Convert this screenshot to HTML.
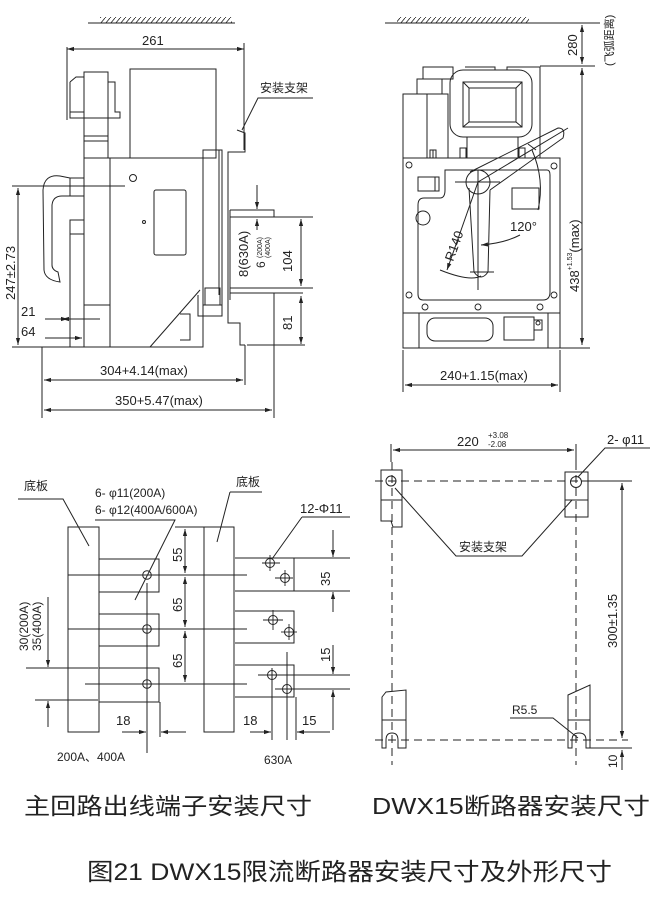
<!DOCTYPE html>
<html><head><meta charset="utf-8"><style>
html,body{margin:0;padding:0;background:#fff}
svg{display:block}
text{font-family:"Liberation Sans","Noto Sans CJK SC",sans-serif;fill:#222}
</style></head><body>
<svg width="658" height="898" viewBox="0 0 658 898" xmlns="http://www.w3.org/2000/svg">
<defs>
<marker id="a" viewBox="0 0 10 10" refX="10" refY="5" markerWidth="7" markerHeight="7" orient="auto-start-reverse"><path d="M0,2L10,5L0,8z" fill="#222"/></marker>
<pattern id="h" width="5" height="6" patternUnits="userSpaceOnUse"><line x1="0" y1="6" x2="5" y2="0" stroke="#222" stroke-width="0.8"/></pattern>
</defs>
<g fill="none" stroke="#222" stroke-width="1">
<!-- ===== TOP LEFT ===== -->
<rect x="100" y="17" width="132" height="6" fill="url(#h)" stroke="none"/>
<line x1="88" y1="23" x2="235" y2="23"/>
<line x1="67" y1="47" x2="67" y2="120"/><line x1="244" y1="43" x2="244" y2="150"/>
<line x1="67" y1="49" x2="244" y2="49" marker-start="url(#a)" marker-end="url(#a)"/>
<path d="M70,82 L76,77 L84,77 M70,82 L70,118 L120,118 L120,112 L115,112 L115,82 L108,82 M70,112 L84,112"/>
<rect x="84" y="72" width="24" height="86"/>
<line x1="84" y1="136" x2="108" y2="136"/><line x1="84" y1="141" x2="108" y2="141"/>
<rect x="130" y="69" width="86" height="89"/>
<rect x="84" y="158" width="119" height="189"/>
<line x1="110" y1="158" x2="110" y2="347"/><line x1="84" y1="305" x2="110" y2="305"/>
<path d="M70,178 L60,176 Q44,174 43,190 L44,270 Q45,280 60,282 L58,272 Q52,270 52,265 L52,205 Q53,196 62,196 L70,196"/>
<rect x="70" y="178" width="14" height="18"/>
<rect x="70" y="220" width="14" height="14"/>
<line x1="70" y1="234" x2="70" y2="347"/>
<circle cx="133" cy="178" r="3.5"/>
<rect x="154" y="190" width="32" height="65" rx="2"/>
<circle cx="144" cy="222" r="1.5"/>
<line x1="12" y1="186" x2="125" y2="186"/>
<rect x="203" y="150" width="19" height="155"/>
<line x1="219" y1="150" x2="219" y2="295"/>
<rect x="205" y="288" width="15" height="17"/>
<path d="M237,130 L245,133 L245,152 L228,152 L228,323 L240,323 L240,345 L245,345"/>
<path d="M198,295 L198,316 L222,316 L222,300"/>
<line x1="150" y1="347" x2="200" y2="290"/>
<path d="M180,314 L190,314 L190,340 L180,340"/>
<path d="M230,210 L274,210 L274,217 M230,217 L313,217 M230,288 L313,288 M230,293 L303,293 M247,345 L305,345"/>
<line x1="230" y1="210" x2="230" y2="300"/>
<line x1="274" y1="293" x2="274" y2="418"/>
<line x1="301" y1="219" x2="301" y2="286" marker-start="url(#a)" marker-end="url(#a)"/>
<line x1="301" y1="296" x2="301" y2="344" marker-start="url(#a)" marker-end="url(#a)"/>
<line x1="257" y1="185" x2="257" y2="209" marker-end="url(#a)"/>
<line x1="257" y1="230" x2="257" y2="219" marker-end="url(#a)"/>
<line x1="12" y1="347" x2="190" y2="347"/>
<line x1="18" y1="188" x2="18" y2="345" marker-start="url(#a)" marker-end="url(#a)"/>
<line x1="62" y1="319" x2="100" y2="319" marker-start="url(#a)"/>
<line x1="45" y1="319" x2="68" y2="319" marker-end="url(#a)"/>
<line x1="45" y1="338" x2="82" y2="338" marker-end="url(#a)"/>
<line x1="42" y1="347" x2="42" y2="418"/>
<line x1="245" y1="345" x2="245" y2="385"/>
<line x1="44" y1="380" x2="243" y2="380" marker-start="url(#a)" marker-end="url(#a)"/>
<line x1="44" y1="410" x2="272" y2="410" marker-start="url(#a)" marker-end="url(#a)"/>
<path d="M260,98 L258,98 L242,130" />
<line x1="258" y1="98" x2="313" y2="98"/>
</g>
<g font-size="12">
<text x="142" y="45" font-size="13">261</text>
<text x="260" y="92" font-size="12">安装支架</text>
<text x="21" y="316" font-size="13">21</text>
<text x="21" y="336" font-size="13">64</text>
<text x="100" y="375" font-size="13">304+4.14(max)</text>
<text x="115" y="405" font-size="13">350+5.47(max)</text>
<text transform="translate(15,300) rotate(-90)" font-size="13">247±2.73</text>
<text transform="translate(292,272) rotate(-90)" font-size="13">104</text>
<text transform="translate(292,330) rotate(-90)" font-size="13">81</text>
<text transform="translate(248,277) rotate(-90)" font-size="13">8(630A)</text>
<text transform="translate(265,268) rotate(-90)" font-size="12">6</text>
<text transform="translate(262,258) rotate(-90)" font-size="7">(200A)</text>
<text transform="translate(270,258) rotate(-90)" font-size="7">(400A)</text>
</g>
<!-- ===== TOP RIGHT ===== -->
<g fill="none" stroke="#222" stroke-width="1">
<rect x="397" y="17" width="132" height="6" fill="url(#h)" stroke="none"/>
<line x1="385" y1="23" x2="600" y2="23"/>
<line x1="540" y1="66" x2="595" y2="66"/>
<line x1="582" y1="25" x2="582" y2="64" marker-start="url(#a)" marker-end="url(#a)"/>
<line x1="582" y1="68" x2="582" y2="345" marker-start="url(#a)" marker-end="url(#a)"/>
<line x1="560" y1="348" x2="590" y2="348"/>
<rect x="403" y="158" width="157" height="190"/>
<line x1="403" y1="313" x2="560" y2="313"/>
<line x1="419" y1="313" x2="419" y2="348"/><line x1="548" y1="313" x2="548" y2="348"/>
<rect x="427" y="318" width="66" height="23" rx="8"/>
<rect x="504" y="317" width="30" height="23"/>
<rect x="534" y="320" width="8" height="10"/><circle cx="538" cy="323" r="2"/>
<rect x="403" y="94" width="45" height="64"/>
<line x1="427" y1="94" x2="427" y2="158"/>
<rect x="417" y="79" width="25" height="15"/>
<rect x="423" y="67" width="30" height="12"/>
<rect x="450" y="70" width="82" height="67" rx="13"/>
<rect x="463" y="82" width="59" height="45"/>
<rect x="469" y="88" width="47" height="34"/>
<line x1="463" y1="82" x2="469" y2="88"/><line x1="522" y1="82" x2="516" y2="88"/>
<line x1="463" y1="127" x2="469" y2="122"/><line x1="522" y1="127" x2="516" y2="122"/>
<line x1="467" y1="137" x2="467" y2="158"/><line x1="518" y1="137" x2="518" y2="158"/>
<path d="M507,70 L507,67 L540,67 L540,158"/>
<path d="M465,67 L495,67 L495,70"/>
<rect x="430" y="150" width="6" height="8"/><rect x="460" y="148" width="6" height="10"/>
<line x1="433" y1="150" x2="433" y2="158"/>
<rect x="519" y="148" width="6" height="10"/>
<path d="M445,170 L547,170 Q550,170 550,175 L550,292 Q550,300 543,300 L423,300 Q418,300 418,294 L418,205 Q418,198 424,198 L440,198 Q445,198 445,190 Z"/>
<rect x="418" y="177" width="21" height="14"/>
<line x1="435" y1="177" x2="435" y2="191"/>
<circle cx="423" cy="218" r="7"/>
<rect x="512" y="188" width="27" height="21"/>
<circle cx="478" cy="182" r="12"/>
<path d="M469,188 L474,272 Q481,282 488,272 L490,190"/>
<line x1="455" y1="182" x2="500" y2="182"/>
<line x1="478" y1="170" x2="478" y2="290"/>
<line x1="470" y1="272" x2="494" y2="272"/>
<path d="M470,172 L558,128 Q566,128 563,138 L490,190"/>
<line x1="478" y1="182" x2="568" y2="128"/>
<line x1="478" y1="182" x2="447" y2="270" marker-end="url(#a)"/>
<path d="M440,270 Q470,282 481,276"/>
<path d="M532,150 Q545,180 538,210"/>
<path d="M520,235 Q505,243 481,245" marker-end="url(#a)"/>
<line x1="528" y1="144" x2="536" y2="150"/>
<g stroke-width="0.9">
<circle cx="409" cy="165" r="3"/><circle cx="554" cy="166" r="3"/>
<circle cx="409" cy="295" r="3"/><circle cx="554" cy="295" r="3"/>
<circle cx="425" cy="307" r="3"/><circle cx="478" cy="307" r="3"/><circle cx="540" cy="307" r="3"/>
</g>
<line x1="403" y1="350" x2="403" y2="392"/><line x1="560" y1="350" x2="560" y2="392"/>
<line x1="405" y1="385" x2="558" y2="385" marker-start="url(#a)" marker-end="url(#a)"/>
</g>
<text transform="translate(577,56) rotate(-90)" font-size="13">280</text>
<text transform="translate(579,292) rotate(-90)" font-size="13">438<tspan font-size="7" dy="-7">+1.53</tspan><tspan dy="7">(max)</tspan></text>
<text transform="translate(613,66) rotate(-90)" font-size="11">(飞弧距离)</text>
<text x="510" y="231" font-size="13">120°</text>
<text transform="translate(453,262) rotate(-70)" font-size="13">R140</text>
<text x="440" y="380" font-size="13">240+1.15(max)</text>
<!-- ===== BOTTOM LEFT ===== -->
<g fill="none" stroke="#222" stroke-width="1">
<path d="M18,499 L63,499 L89,546"/>
<rect x="68" y="527" width="31" height="205"/>
<path d="M99,559 L159,559 L159,592 L99,592 M99,614 L159,614 L159,646 L99,646 M99,668 L159,668 L159,702 L99,702"/>
<circle cx="147" cy="575" r="4.3"/><circle cx="147" cy="629" r="4.3"/><circle cx="147" cy="684" r="4.3"/>
<line x1="68" y1="575" x2="247" y2="575"/><line x1="68" y1="629" x2="247" y2="629"/><line x1="85" y1="684" x2="247" y2="684"/>
<line x1="147" y1="583" x2="147" y2="753"/>
<path d="M95,520 L175,520 L135,600"/>
<line x1="175" y1="527" x2="204" y2="527"/>
<line x1="185" y1="529" x2="185" y2="573" marker-start="url(#a)" marker-end="url(#a)"/>
<line x1="185" y1="577" x2="185" y2="627" marker-start="url(#a)" marker-end="url(#a)"/>
<line x1="185" y1="631" x2="185" y2="682" marker-start="url(#a)" marker-end="url(#a)"/>
<line x1="26" y1="668" x2="98" y2="668"/><line x1="35" y1="700" x2="98" y2="700"/>
<line x1="48" y1="597" x2="48" y2="667" marker-end="url(#a)"/>
<line x1="48" y1="727" x2="48" y2="701" marker-end="url(#a)"/>
<line x1="160" y1="702" x2="160" y2="737"/>
<line x1="122" y1="732" x2="146" y2="732" marker-end="url(#a)"/>
<line x1="186" y1="732" x2="161" y2="732" marker-end="url(#a)"/>
<path d="M230,492 L262,492 M230,492 L217,542"/>
<rect x="204" y="527" width="30" height="205"/>
<path d="M235,558 L294,558 L294,591 L235,591 M235,611 L294,611 L294,643 L235,643 M235,665 L294,665 L294,697 L235,697"/>
<circle cx="270" cy="563" r="4.5"/><circle cx="285" cy="578" r="4.5"/>
<circle cx="273" cy="620" r="4.5"/><circle cx="289" cy="632" r="4.5"/>
<circle cx="272" cy="675" r="4.5"/><circle cx="287" cy="689" r="4.5"/>
<g stroke-width="0.9">
<line x1="262" y1="563" x2="280" y2="563"/><line x1="270" y1="555" x2="270" y2="571"/>
<line x1="275" y1="578" x2="293" y2="578"/><line x1="285" y1="570" x2="285" y2="586"/>
<line x1="263" y1="620" x2="283" y2="620"/><line x1="273" y1="610" x2="273" y2="630"/>
<line x1="281" y1="632" x2="297" y2="632"/><line x1="289" y1="624" x2="289" y2="640"/>
</g>
<line x1="204" y1="575" x2="247" y2="575"/><line x1="204" y1="629" x2="247" y2="629"/><line x1="204" y1="684" x2="247" y2="684"/>
<line x1="258" y1="675" x2="350" y2="675"/><line x1="275" y1="689" x2="350" y2="689"/>
<line x1="294" y1="558" x2="350" y2="558"/><line x1="294" y1="591" x2="350" y2="591"/>
<line x1="272" y1="668" x2="272" y2="740"/><line x1="287" y1="652" x2="287" y2="740"/><line x1="296" y1="697" x2="296" y2="740"/>
<path d="M302,517 L350,517 M302,517 L272,559"/>
<line x1="333" y1="530" x2="333" y2="557" marker-end="url(#a)"/>
<line x1="333" y1="612" x2="333" y2="592" marker-end="url(#a)"/>
<line x1="333" y1="645" x2="333" y2="674" marker-end="url(#a)"/>
<line x1="333" y1="730" x2="333" y2="690" marker-end="url(#a)"/>
<line x1="250" y1="732" x2="271" y2="732" marker-end="url(#a)"/>
<line x1="330" y1="732" x2="297" y2="732" marker-end="url(#a)"/>
</g>
<g font-size="12">
<text x="24" y="490">底板</text>
<text x="95" y="497">6- φ11(200A)</text>
<text x="95" y="514">6- φ12(400A/600A)</text>
<text x="236" y="486">底板</text>
<text x="300" y="513" font-size="13">12-Φ11</text>
<text transform="translate(182,562) rotate(-90)" font-size="13">55</text>
<text transform="translate(182,612) rotate(-90)" font-size="13">65</text>
<text transform="translate(182,668) rotate(-90)" font-size="13">65</text>
<text transform="translate(330,586) rotate(-90)" font-size="13">35</text>
<text transform="translate(330,662) rotate(-90)" font-size="13">15</text>
<text transform="translate(28,651) rotate(-90)">30(200A)</text>
<text transform="translate(41,651) rotate(-90)">35(400A)</text>
<text x="116" y="725" font-size="13">18</text>
<text x="243" y="725" font-size="13">18</text>
<text x="302" y="725" font-size="13">15</text>
<text x="57" y="761">200A、400A</text>
<text x="264" y="764">630A</text>
</g>
<!-- ===== BOTTOM RIGHT ===== -->
<g fill="none" stroke="#222" stroke-width="1">
<line x1="391" y1="444" x2="391" y2="462"/><line x1="576" y1="444" x2="576" y2="462"/>
<line x1="393" y1="450" x2="574" y2="450" marker-start="url(#a)" marker-end="url(#a)"/>
<g stroke-dasharray="8,5">
<line x1="375" y1="481" x2="620" y2="481"/>
<line x1="375" y1="740" x2="628" y2="740"/>
<line x1="392" y1="462" x2="392" y2="765"/>
<line x1="576" y1="462" x2="576" y2="765"/>
</g>
<path d="M381,500 L381,521 L391,521 L393,527 L402,527 L402,470 L381,470 Z"/>
<line x1="381" y1="500" x2="402" y2="500"/>
<circle cx="391" cy="481" r="5"/>
<rect x="565" y="472" width="23" height="45"/>
<line x1="565" y1="500" x2="588" y2="500"/>
<circle cx="576" cy="482" r="5.5"/>
<path d="M382,697 L386,692 L406,690 L406,748 L398,748 L398,740 Q398,733 392,733 Q386,733 386,740 L386,748 L382,748 Z"/>
<line x1="382" y1="720" x2="406" y2="720"/>
<path d="M568,695 L590,685 L590,748 L586,748 L586,740 Q586,733 579,733 Q572,733 572,740 L572,748 L568,748 Z"/>
<line x1="568" y1="720" x2="590" y2="720"/>
<path d="M395,488 L456,556 L522,556 L572,500"/>
<path d="M650,448 L605,448 L578,477"/>
<line x1="581" y1="481" x2="632" y2="481"/>
<line x1="622" y1="483" x2="622" y2="738" marker-start="url(#a)" marker-end="url(#a)"/>
<line x1="590" y1="748" x2="632" y2="748"/>
<line x1="622" y1="770" x2="622" y2="750" marker-end="url(#a)"/>
<line x1="622" y1="722" x2="622" y2="738" marker-end="url(#a)"/>
<path d="M510,718 L553,718 L578,738"/>
</g>
<text x="457" y="446" font-size="13">220</text>
<text x="488" y="438" font-size="8">+3.08</text>
<text x="488" y="447" font-size="8">-2.08</text>
<text x="607" y="444" font-size="13">2- φ11</text>
<text x="459" y="551" font-size="12">安装支架</text>
<text x="512" y="714" font-size="12">R5.5</text>
<text transform="translate(617,648) rotate(-90)" font-size="13">300±1.35</text>
<text transform="translate(617,768) rotate(-90)" font-size="12">10</text>
<!-- captions -->
<text x="24" y="814" font-size="23" textLength="288" lengthAdjust="spacingAndGlyphs">主回路出线端子安装尺寸</text>
<text x="372" y="814" font-size="23" textLength="278" lengthAdjust="spacingAndGlyphs">DWX15断路器安装尺寸</text>
<text x="87" y="880" font-size="24" textLength="525" lengthAdjust="spacingAndGlyphs">图21 DWX15限流断路器安装尺寸及外形尺寸</text>
</svg>
</body></html>
